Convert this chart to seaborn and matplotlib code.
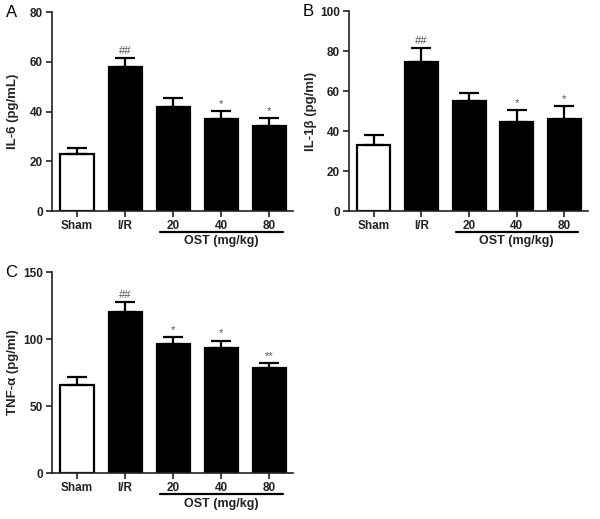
import matplotlib
matplotlib.use("Agg")
import matplotlib.pyplot as plt
import seaborn as sns
import pandas as pd
import numpy as np
from matplotlib.transforms import blended_transform_factory

sns.set_style("ticks")
plt.rcParams['font.family'] = ['Liberation Sans', 'DejaVu Sans']

groups = ["Sham", "I/R", "20", "40", "80"]
il6 = [22.8, 57.8, 41.8, 36.8, 34.2]
il6_err = [2.6, 3.6, 3.6, 3.4, 3.0]
il1b = [33.0, 74.7, 55.0, 44.5, 46.2]
il1b_err = [5.2, 7.0, 3.8, 5.8, 6.3]
tnfa = [65.5, 120.3, 96.6, 93.0, 78.4]
tnfa_err = [6.4, 7.3, 4.6, 5.8, 3.6]
sig_a = ["", "##", "", "*", "*"]
sig_b = ["", "##", "", "*", "*"]
sig_c = ["", "##", "*", "*", "**"]
fill_colors = ["white", "black", "black", "black", "black"]

fig = plt.figure(figsize=(6.0, 5.19), dpi=100)
axA = fig.add_axes([0.0867, 0.5934, 0.4017, 0.3834])
axB = fig.add_axes([0.5817, 0.5934, 0.398, 0.3853])
axC = fig.add_axes([0.0867, 0.0886, 0.4017, 0.3873])

panels = [
    (axA, il6, il6_err, sig_a, "IL-6 (pg/mL)", 80, [0, 20, 40, 60, 80], "A"),
    (axB, il1b, il1b_err, sig_b, "IL-1\u03b2 (pg/ml)", 100, [0, 20, 40, 60, 80, 100], "B"),
    (axC, tnfa, tnfa_err, sig_c, "TNF-\u03b1 (pg/ml)", 150, [0, 50, 100, 150], "C"),
]

for ax, vals, errs, sigs, ylabel, ymax, yticks, letter in panels:
    df = pd.DataFrame({"group": groups, "value": vals})
    sns.barplot(data=df, x="group", y="value", hue="group", order=groups,
                palette=fill_colors, edgecolor="black", linewidth=1.6,
                width=0.69, errorbar=None, legend=False, ax=ax)
    x = np.arange(len(groups))
    ax.errorbar(x, vals, yerr=[np.zeros(len(errs)), errs], fmt="none",
                ecolor="black", elinewidth=1.6, capsize=7, capthick=1.6, zorder=5)
    for xi, v, e, s in zip(x, vals, errs, sigs):
        if s:
            ax.annotate(s, (xi, v + e), xytext=(0, 1.5), textcoords="offset points",
                        ha="center", va="bottom", fontsize=8, color="#555555")
    ax.set_xlim(-0.52, 4.49)
    ax.set_ylim(0, ymax)
    ax.set_yticks(yticks)
    ax.set_xlabel("")
    ax.set_ylabel(ylabel, fontsize=9.5, fontweight="bold")
    ax.yaxis.set_label_coords(-0.135, 0.5)
    for sp in ["top", "right"]:
        ax.spines[sp].set_visible(False)
    for sp in ["left", "bottom"]:
        ax.spines[sp].set_linewidth(1.2)
        ax.spines[sp].set_color("#222222")
    ax.tick_params(axis="both", length=4, width=1.2, labelsize=8.5, colors="#222222", pad=2.5)
    for lab in ax.get_xticklabels() + ax.get_yticklabels():
        lab.set_fontweight("bold")
    trans = blended_transform_factory(ax.transData, ax.transAxes)
    ax.plot([1.72, 4.28], [-0.105, -0.105], color="black", lw=1.6,
            transform=trans, clip_on=False)
    ax.text(3.0, -0.122, "OST (mg/kg)", transform=trans, ha="center", va="top",
            fontsize=9, fontweight="bold", color="#222222")
    ax.text(-0.17, 1.0, letter, transform=ax.transAxes, ha="center", va="center",
            fontsize=12, color="black")

fig.savefig("out.png", dpi=100)
